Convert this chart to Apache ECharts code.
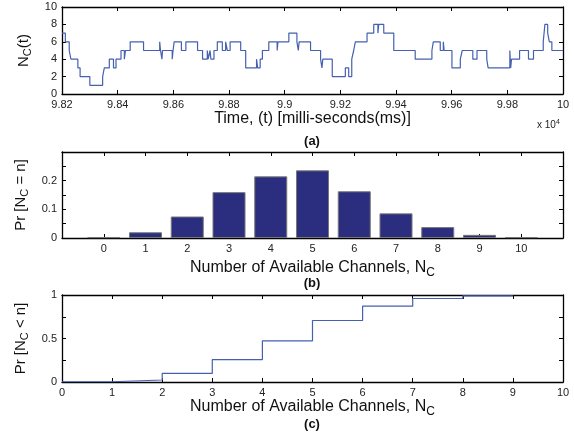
<!DOCTYPE html>
<html>
<head>
<meta charset="utf-8">
<script src="https://cdn.jsdelivr.net/npm/echarts@6/dist/echarts.min.js"></script>
<style>
html, body { margin: 0; padding: 0; background: #fff; }
#main { width: 574px; height: 436px; }
</style>
</head>
<body>
<div id="main"></div>
<script>
//////////////////////////////
//          data
//////////////////////////////
// (a) number of available channels over time (x 10^4 ms), value holds until next point
var timeT = [9.8200, 9.8212, 9.8226, 9.8232, 9.8257, 9.8265, 9.8300, 9.8346, 9.8352, 9.8370,
    9.8385, 9.8394, 9.8412, 9.8424, 9.8428, 9.8445, 9.8493, 9.8551, 9.8554, 9.8559,
    9.8561, 9.8596, 9.8599, 9.8603, 9.8629, 9.8645, 9.8687, 9.8705, 9.8722, 9.8725,
    9.8732, 9.8735, 9.8746, 9.8758, 9.8776, 9.8788, 9.8794, 9.8804, 9.8842, 9.8860,
    9.8899, 9.8903, 9.8912, 9.8920, 9.8943, 9.8973, 9.8976, 9.9015, 9.9044, 9.9049,
    9.9052, 9.9093, 9.9129, 9.9134, 9.9137, 9.9171, 9.9218, 9.9230, 9.9241, 9.9248,
    9.9254, 9.9296, 9.9320, 9.9335, 9.9338, 9.9356, 9.9392, 9.9469, 9.9529, 9.9534,
    9.9559, 9.9570, 9.9573, 9.9601, 9.9631, 9.9638, 9.9676, 9.9691, 9.9726, 9.9731,
    9.9809, 9.9812, 9.9815, 9.9844, 9.9876, 9.9894, 9.9929, 9.9935, 9.9945, 9.9951,
    9.9960, 10.0000];
var timeN = [7, 6, 5, 4, 3, 2, 1, 2, 3, 4,
    3, 4, 5, 4, 5, 6, 5, 6, 5, 4,
    5, 4, 5, 6, 5, 6, 5, 4, 5, 4,
    5, 4, 5, 6, 5, 6, 5, 6, 5, 3,
    4, 3, 4, 5, 6, 5, 6, 7, 6, 5,
    6, 5, 4, 3, 4, 2, 3, 2, 4, 5,
    6, 7, 8, 7, 8, 7, 5, 4, 5, 6,
    5, 6, 5, 3, 4, 5, 4, 5, 4, 3,
    5, 3, 4, 5, 4, 5, 6, 8, 7, 6,
    5, 5];

// (b) Pr[Nc = n]
var channels = [0, 1, 2, 3, 4, 5, 6, 7, 8, 9, 10];
var probEq = [0.003, 0.02, 0.075, 0.16, 0.215, 0.236, 0.163, 0.086, 0.038, 0.011, 0.003];

// (c) Pr[Nc < n]
var cdfN = [0, 1, 2, 3, 4, 5, 6, 7, 8, 9];
var cdfP = [0.003, 0.023, 0.098, 0.258, 0.473, 0.707, 0.872, 0.96, 0.99, 0.99];

var lineSeries = [];
for (var i = 0; i < timeT.length; i++) {
    lineSeries.push([timeT[i], timeN[i]]);
}
var barData = [];
for (var i = 0; i < channels.length; i++) {
    barData.push([channels[i], probEq[i]]);
}
var cdfData = [];
for (var i = 0; i < cdfN.length; i++) {
    cdfData.push([cdfN[i], cdfP[i]]);
}

//////////////////////////////
//          chart
//////////////////////////////
var FONT = 'Liberation Sans';
var lblStyle = { color: '#222', fontSize: 11, fontFamily: FONT };
// x names a bit larger than y names
var xNameRich = {
    n: { fontSize: 16, fontFamily: FONT, color: '#111' },
    s: { fontSize: 12, fontFamily: FONT, color: '#111', padding: [10, 0, 0, 0] }
};
var yNameRich = {
    n: { fontSize: 15, fontFamily: FONT, color: '#111' },
    s: { fontSize: 11, fontFamily: FONT, color: '#111', padding: [9, 0, 0, 0] }
};

function frameAxis(pos, gridIndex, min, max, interval) {
    return {
        type: 'value', gridIndex: gridIndex, position: pos,
        min: min, max: max, interval: interval,
        axisLine: { show: true, onZero: false, lineStyle: { color: '#000', width: 1.3 } },
        axisTick: { show: true, inside: true, length: 4, lineStyle: { color: '#000' } },
        axisLabel: { show: false },
        splitLine: { show: false }
    };
}

function mainAxis(pos, gridIndex, min, max, interval, fmt) {
    var a = frameAxis(pos, gridIndex, min, max, interval);
    a.axisLabel = { show: true, margin: 5, formatter: fmt, color: lblStyle.color, fontSize: lblStyle.fontSize, fontFamily: FONT, hideOverlap: false };
    return a;
}

function cleanNum(v) {
    return String(parseFloat(v.toFixed(2)));
}

var myChart = echarts.init(document.getElementById('main'), null, { renderer: 'canvas' });

var option = {
    animation: false,
    backgroundColor: '#fff',
    grid: [
        { left: 62, top: 7, width: 501, height: 87 },
        { left: 62, top: 152, width: 501, height: 86 },
        { left: 62, top: 295, width: 501, height: 87 }
    ],
    xAxis: [
        (function() {
            var a = mainAxis('bottom', 0, 9.82, 10, 0.02, cleanNum);
            a.name = '{n|Time, (t) [milli-seconds(ms)]}';
            a.nameLocation = 'middle';
            a.nameGap = 16;
            a.nameTextStyle = { rich: xNameRich };
            return a;
        })(),
        frameAxis('top', 0, 9.82, 10, 0.02),
        (function() {
            var a = mainAxis('bottom', 1, -1, 11, 1, function(v) {
                return (v < 0 || v > 10) ? '' : String(v);
            });
            a.name = '{n|Number of Available Channels, N}{s|C}';
            a.nameLocation = 'middle';
            a.nameGap = 19;
            a.nameTextStyle = { rich: xNameRich };
            return a;
        })(),
        frameAxis('top', 1, -1, 11, 1),
        (function() {
            var a = mainAxis('bottom', 2, 0, 10, 1, function(v) { return String(v); });
            a.name = '{n|Number of Available Channels, N}{s|C}';
            a.nameLocation = 'middle';
            a.nameGap = 14;
            a.nameTextStyle = { rich: xNameRich };
            return a;
        })(),
        frameAxis('top', 2, 0, 10, 1)
    ],
    yAxis: [
        (function() {
            var a = mainAxis('left', 0, 0, 10, 2, function(v) { return String(v); });
            a.name = '{n|N}{s|C}{n|(t)}';
            a.nameLocation = 'middle';
            a.nameGap = 24;
            a.nameTextStyle = { rich: yNameRich };
            return a;
        })(),
        frameAxis('right', 0, 0, 10, 2),
        (function() {
            var a = mainAxis('left', 1, 0, 0.3, 0.05, function(v) {
                var r = Math.round(v * 100);
                return (r % 10 === 0 && r < 30) ? cleanNum(v) : '';
            });
            a.name = '{n|Pr [N}{s|C}{n| = n]}';
            a.nameLocation = 'middle';
            a.nameGap = 27;
            a.nameTextStyle = { rich: yNameRich };
            return a;
        })(),
        frameAxis('right', 1, 0, 0.3, 0.05),
        (function() {
            var a = mainAxis('left', 2, 0, 1, 0.25, function(v) {
                var r = Math.round(v * 100);
                return (r % 50 === 0) ? cleanNum(v) : '';
            });
            a.name = '{n|Pr [N}{s|C}{n| < n]}';
            a.nameLocation = 'middle';
            a.nameGap = 27;
            a.nameTextStyle = { rich: yNameRich };
            return a;
        })(),
        frameAxis('right', 2, 0, 1, 0.25)
    ],
    series: [{
        name: 'Nc(t)',
        type: 'line',
        xAxisIndex: 0,
        yAxisIndex: 0,
        step: 'end',
        showSymbol: false,
        data: lineSeries,
        lineStyle: { color: '#4560b0', width: 1.2 }
    }, {
        name: 'Pr[Nc=n]',
        type: 'bar',
        xAxisIndex: 2,
        yAxisIndex: 2,
        barWidth: 33,
        data: barData,
        itemStyle: { color: '#2b2e7e', borderColor: '#777', borderWidth: 1 }
    }, {
        name: 'Pr[Nc<n]',
        type: 'line',
        xAxisIndex: 4,
        yAxisIndex: 4,
        step: 'end',
        showSymbol: false,
        data: cdfData,
        lineStyle: { color: '#4560b0', width: 1.2 }
    }],
    graphic: [{
        type: 'text', left: 537, top: 119,
        style: { text: '{t|x 10}{p|4}', rich: { t: { fontSize: 10, fontFamily: FONT, fill: '#222', padding: [5, 0, 0, 0] }, p: { fontSize: 7, fontFamily: FONT, fill: '#222' } } }
    }, {
        type: 'text', x: 312, y: 141,
        style: { text: '(a)', fontSize: 13, fontWeight: 'bold', fontFamily: FONT, fill: '#111', align: 'center', verticalAlign: 'middle' }
    }, {
        type: 'text', x: 312, y: 283,
        style: { text: '(b)', fontSize: 13, fontWeight: 'bold', fontFamily: FONT, fill: '#111', align: 'center', verticalAlign: 'middle' }
    }, {
        type: 'text', x: 312, y: 424,
        style: { text: '(c)', fontSize: 13, fontWeight: 'bold', fontFamily: FONT, fill: '#111', align: 'center', verticalAlign: 'middle' }
    }]
};

myChart.setOption(option);
</script>
</body>
</html>
